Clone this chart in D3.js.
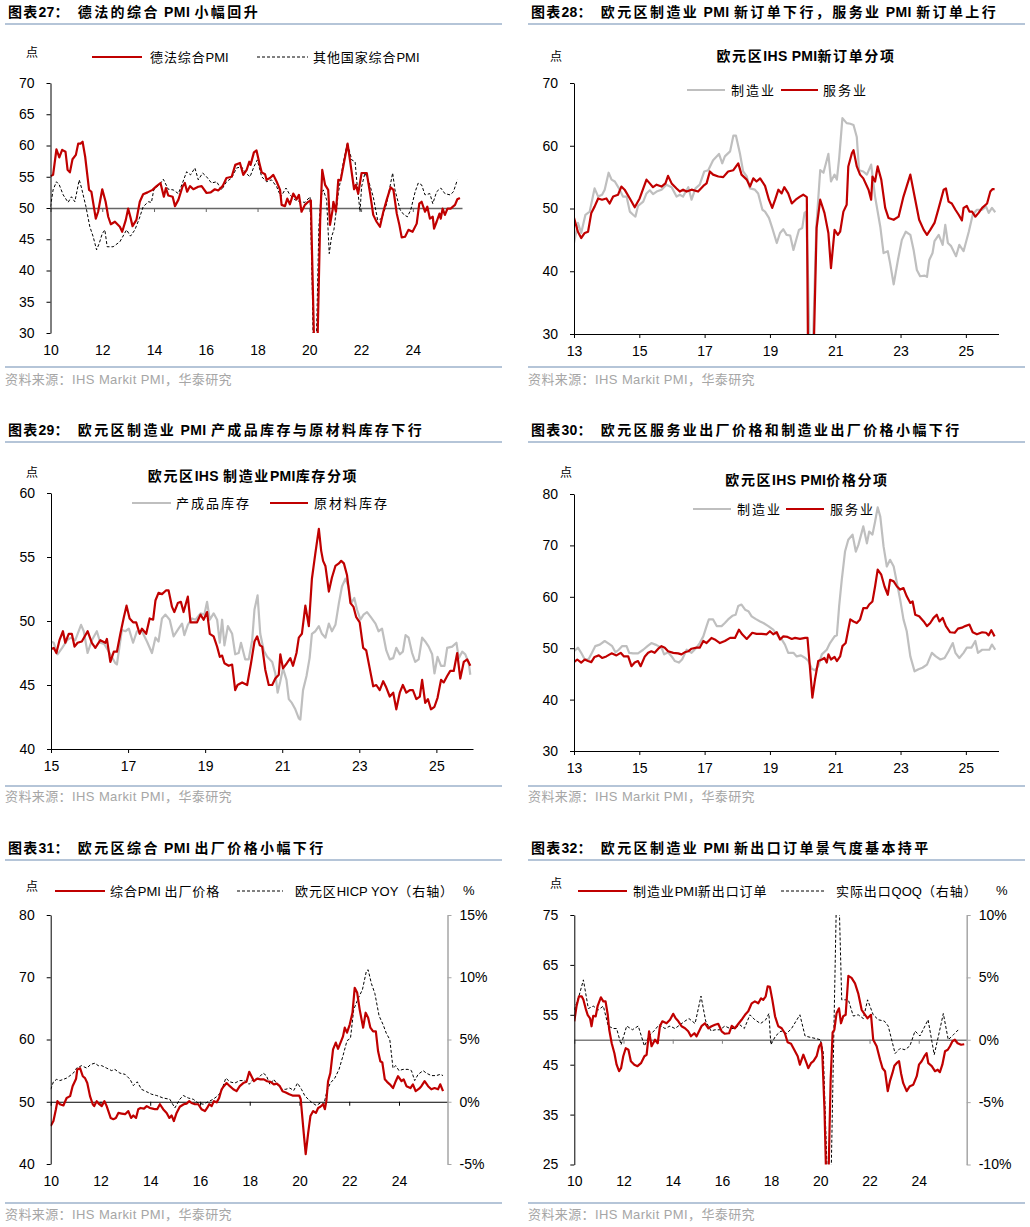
<!DOCTYPE html>
<html><head><meta charset="utf-8">
<script src="https://cdn.jsdelivr.net/npm/d3@7/dist/d3.min.js"></script>
<style>
html,body{margin:0;padding:0;background:#fff;}
svg{display:block;}
</style></head>
<body>
<svg id="chart" width="1030" height="1227" xmlns="http://www.w3.org/2000/svg"></svg>
<script>
// ================= DATA =================
const evenYearTicks = [2010,2012,2014,2016,2018,2020,2022,2024];
const oddYearTicks13 = [2013,2015,2017,2019,2021,2023,2025];
const oddYearTicks15 = [2015,2017,2019,2021,2023,2025];
const p27YTicks = [30,35,40,45,50,55,60,65,70];
const p28YTicks = [30,40,50,60,70];
const p29YTicks = [40,45,50,55,60];
const p30YTicks = [30,40,50,60,70,80];
const p31YTicks = [40,50,60,70,80];
const p31Y2Ticks = [-5,0,5,10,15];
const p32YTicks = [25,35,45,55,65,75];
const p32Y2Ticks = [-10,-5,0,5,10];

const chartNumbers = ["图表27：","图表28：","图表29：","图表30：","图表31：","图表32："];
const chartTitles = [
  "德法的综合 PMI 小幅回升",
  "欧元区制造业 PMI 新订单下行，服务业 PMI 新订单上行",
  "欧元区制造业 PMI 产成品库存与原材料库存下行",
  "欧元区服务业出厂价格和制造业出厂价格小幅下行",
  "欧元区综合 PMI 出厂价格小幅下行",
  "欧元区制造业 PMI 新出口订单景气度基本持平"
];
const innerTitles = ["欧元区IHS PMI新订单分项","欧元区IHS 制造业PMI库存分项","欧元区IHS PMI价格分项"];
const sourceText = "资料来源：IHS Markit PMI，华泰研究";
const legend27 = ["德法综合PMI","其他国家综合PMI"];
const legend28 = ["制造业","服务业"];
const legend29 = ["产成品库存","原材料库存"];
const legend30 = ["制造业","服务业"];
const legend31 = ["综合PMI 出厂价格","欧元区HICP YOY（右轴）"];
const legend32 = ["制造业PMI新出口订单","实际出口QOQ（右轴）"];

// Chart 27: [year, value]
const deFrComposite = [[2010.00,55.1],[2010.10,55.3],[2010.23,59.4],[2010.34,58.1],[2010.45,59.3],[2010.58,59.0],[2010.66,56.1],[2010.75,55.7],[2010.85,57.8],[2010.98,58.5],[2011.07,60.3],[2011.16,60.3],[2011.24,60.6],[2011.34,58.2],[2011.49,52.9],[2011.58,52.6],[2011.75,48.3],[2011.84,49.4],[2012.00,53.0],[2012.13,51.0],[2012.23,48.6],[2012.33,47.4],[2012.49,47.8],[2012.68,47.0],[2012.77,46.2],[2012.91,48.1],[2013.00,49.9],[2013.09,48.5],[2013.17,47.1],[2013.32,48.1],[2013.45,51.0],[2013.58,52.2],[2013.75,52.5],[2013.94,52.9],[2014.10,53.5],[2014.25,54.0],[2014.38,51.8],[2014.46,53.2],[2014.55,52.0],[2014.72,51.8],[2014.81,50.3],[2014.94,51.3],[2015.10,53.4],[2015.19,54.0],[2015.28,52.6],[2015.39,53.5],[2015.52,53.0],[2015.71,53.4],[2015.84,53.5],[2016.03,52.4],[2016.19,52.5],[2016.35,53.0],[2016.48,52.8],[2016.65,53.5],[2016.80,54.8],[2017.00,55.0],[2017.14,56.9],[2017.32,57.2],[2017.45,55.3],[2017.58,56.1],[2017.68,57.4],[2017.73,56.9],[2017.86,58.9],[2017.96,59.2],[2018.07,57.2],[2018.16,55.7],[2018.29,55.4],[2018.35,54.5],[2018.48,54.8],[2018.61,55.3],[2018.74,54.2],[2018.87,52.9],[2018.93,50.5],[2019.06,50.3],[2019.15,51.5],[2019.25,50.6],[2019.38,52.3],[2019.51,51.4],[2019.60,52.1],[2019.70,49.4],[2019.83,50.5],[2019.96,51.0],[2020.06,51.2],[2020.17,31.0],[2020.25,14.0],[2020.33,31.0],[2020.42,48.0],[2020.50,56.1],[2020.61,53.7],[2020.73,52.9],[2020.80,47.3],[2020.90,49.7],[2020.93,51.0],[2021.03,49.4],[2021.12,54.5],[2021.21,54.4],[2021.31,56.6],[2021.48,60.3],[2021.57,57.7],[2021.73,53.0],[2021.80,53.7],[2021.89,52.3],[2022.02,55.6],[2022.22,55.6],[2022.35,52.3],[2022.47,48.9],[2022.60,47.8],[2022.73,47.0],[2022.86,49.4],[2022.99,51.3],[2023.14,53.3],[2023.25,52.9],[2023.38,49.1],[2023.48,47.3],[2023.57,45.3],[2023.70,45.4],[2023.83,46.5],[2023.99,46.2],[2024.15,47.5],[2024.25,50.7],[2024.34,51.0],[2024.47,49.4],[2024.56,50.2],[2024.66,48.3],[2024.77,48.6],[2024.82,46.7],[2024.92,47.8],[2025.03,49.1],[2025.08,48.3],[2025.15,49.9],[2025.24,48.9],[2025.34,49.9],[2025.46,49.9],[2025.63,50.5],[2025.72,51.4],[2025.82,51.6]];
const otherComposite = [[2010.00,50.2],[2010.10,52.9],[2010.23,54.2],[2010.34,53.7],[2010.49,52.1],[2010.68,50.9],[2010.81,51.8],[2010.94,51.0],[2011.11,54.5],[2011.20,53.2],[2011.37,50.2],[2011.52,47.0],[2011.65,45.4],[2011.78,43.3],[2011.88,44.3],[2012.00,45.9],[2012.10,46.5],[2012.19,43.8],[2012.42,43.8],[2012.68,44.6],[2012.94,46.5],[2013.09,45.5],[2013.26,46.5],[2013.43,48.3],[2013.58,50.2],[2013.78,51.0],[2013.90,50.9],[2013.99,52.9],[2014.20,53.7],[2014.36,54.6],[2014.55,53.0],[2014.74,52.9],[2014.94,52.3],[2015.10,54.0],[2015.26,55.8],[2015.41,55.3],[2015.58,56.4],[2015.71,54.5],[2015.88,55.6],[2016.03,55.0],[2016.22,54.0],[2016.42,54.2],[2016.61,52.9],[2016.80,54.2],[2017.00,54.8],[2017.19,56.4],[2017.38,56.6],[2017.54,55.6],[2017.71,55.0],[2017.86,56.6],[2017.99,57.7],[2018.16,55.0],[2018.35,54.2],[2018.54,54.5],[2018.74,53.4],[2018.90,51.8],[2019.10,53.2],[2019.25,52.1],[2019.45,51.3],[2019.64,51.0],[2019.83,50.9],[2020.03,51.8],[2020.12,36.0],[2020.20,15.0],[2020.28,30.0],[2020.37,47.0],[2020.45,51.8],[2020.54,52.9],[2020.67,51.3],[2020.77,42.7],[2020.86,45.4],[2020.95,46.5],[2021.12,52.3],[2021.31,57.2],[2021.47,60.4],[2021.64,57.7],[2021.77,57.4],[2021.83,54.5],[2021.96,49.4],[2022.02,53.4],[2022.15,55.6],[2022.28,54.5],[2022.47,51.8],[2022.64,48.1],[2022.80,48.3],[2022.99,50.7],[2023.22,55.6],[2023.31,52.9],[2023.51,49.7],[2023.66,48.9],[2023.79,48.6],[2023.92,49.7],[2024.09,52.6],[2024.21,54.0],[2024.34,53.7],[2024.47,52.1],[2024.66,52.3],[2024.77,50.7],[2024.92,52.6],[2025.08,53.2],[2025.24,52.3],[2025.44,52.1],[2025.57,52.6],[2025.72,54.5]];

// Chart 28
const mfgNewOrders = [[2013.00,44.5],[2013.12,47.7],[2013.22,46.1],[2013.35,49.0],[2013.48,49.5],[2013.63,53.2],[2013.74,51.9],[2013.86,52.2],[2013.94,53.0],[2014.06,55.7],[2014.15,54.6],[2014.25,54.3],[2014.40,53.0],[2014.50,51.9],[2014.61,51.9],[2014.71,49.5],[2014.81,49.0],[2014.88,48.7],[2014.96,50.4],[2015.12,51.1],[2015.22,52.4],[2015.32,52.9],[2015.42,52.3],[2015.53,52.7],[2015.68,53.0],[2015.83,53.8],[2015.99,53.4],[2016.14,51.9],[2016.24,52.2],[2016.34,51.9],[2016.50,53.4],[2016.60,51.4],[2016.72,53.2],[2016.85,53.8],[2016.99,55.9],[2017.11,56.1],[2017.26,57.7],[2017.44,58.7],[2017.54,57.2],[2017.62,58.3],[2017.78,59.1],[2017.88,61.6],[2017.96,61.6],[2018.08,58.8],[2018.18,55.9],[2018.29,55.1],[2018.39,53.2],[2018.54,53.0],[2018.64,52.4],[2018.77,49.8],[2018.85,49.5],[2018.97,48.5],[2019.07,46.9],[2019.21,44.5],[2019.31,46.1],[2019.41,46.7],[2019.51,45.8],[2019.62,45.7],[2019.72,43.4],[2019.82,45.3],[2019.89,46.6],[2019.99,46.9],[2020.06,49.3],[2020.11,49.5],[2020.17,38.6],[2020.25,18.7],[2020.33,30.5],[2020.42,47.0],[2020.54,56.1],[2020.64,55.7],[2020.79,58.7],[2020.87,54.3],[2020.98,55.4],[2021.05,54.6],[2021.12,58.0],[2021.22,64.4],[2021.35,63.6],[2021.46,63.5],[2021.56,63.3],[2021.66,61.4],[2021.73,56.1],[2021.86,55.9],[2021.97,55.4],[2022.10,57.0],[2022.22,51.9],[2022.38,47.1],[2022.48,42.9],[2022.61,43.2],[2022.68,41.3],[2022.79,37.9],[2022.92,41.8],[2023.04,45.0],[2023.16,46.3],[2023.30,45.8],[2023.40,43.4],[2023.50,40.2],[2023.60,39.2],[2023.74,39.3],[2023.81,39.1],[2023.88,41.8],[2023.98,42.9],[2024.04,44.8],[2024.17,45.8],[2024.29,44.2],[2024.37,47.4],[2024.45,44.5],[2024.55,44.0],[2024.70,42.4],[2024.80,44.2],[2024.93,43.2],[2025.09,46.3],[2025.21,49.0],[2025.34,49.8],[2025.50,49.8],[2025.62,50.3],[2025.70,49.3],[2025.80,50.1],[2025.90,49.4]];
const svcNewOrders = [[2013.00,48.5],[2013.12,46.3],[2013.22,45.3],[2013.33,46.1],[2013.43,46.3],[2013.53,49.3],[2013.63,50.3],[2013.74,51.6],[2013.86,51.4],[2013.99,51.6],[2014.09,50.8],[2014.20,51.9],[2014.35,52.2],[2014.45,53.5],[2014.55,53.0],[2014.71,51.6],[2014.86,50.2],[2015.01,51.6],[2015.22,54.6],[2015.32,54.0],[2015.42,53.4],[2015.53,53.8],[2015.68,53.5],[2015.80,54.0],[2015.88,55.2],[2015.99,54.0],[2016.14,53.2],[2016.24,52.7],[2016.34,53.0],[2016.45,52.7],[2016.60,53.0],[2016.80,52.7],[2016.96,53.6],[2017.06,54.0],[2017.16,55.9],[2017.26,55.4],[2017.42,55.1],[2017.57,55.0],[2017.72,55.9],[2017.88,56.1],[2018.03,57.2],[2018.13,55.4],[2018.29,54.6],[2018.39,53.5],[2018.49,54.8],[2018.59,54.3],[2018.70,54.8],[2018.85,53.6],[2018.97,51.4],[2019.07,50.1],[2019.16,51.4],[2019.26,53.0],[2019.36,52.4],[2019.44,53.4],[2019.56,52.4],[2019.67,50.8],[2019.79,51.4],[2019.92,51.9],[2020.02,52.2],[2020.13,51.8],[2020.17,25.0],[2020.25,10.0],[2020.33,25.0],[2020.43,46.9],[2020.54,51.4],[2020.67,49.3],[2020.79,46.1],[2020.87,40.5],[2020.98,46.6],[2021.08,45.8],[2021.15,46.3],[2021.25,49.5],[2021.35,50.6],[2021.40,56.7],[2021.51,58.8],[2021.56,59.3],[2021.66,56.7],[2021.76,55.4],[2021.86,54.8],[2022.02,53.0],[2022.10,51.4],[2022.14,55.1],[2022.22,54.3],[2022.30,56.7],[2022.41,54.6],[2022.53,50.1],[2022.63,48.5],[2022.79,48.2],[2022.94,48.7],[2023.09,51.9],[2023.30,55.4],[2023.45,51.4],[2023.57,48.2],[2023.71,46.6],[2023.81,45.8],[2023.91,46.6],[2024.04,47.7],[2024.17,50.1],[2024.32,53.0],[2024.39,53.2],[2024.47,51.1],[2024.57,50.8],[2024.68,49.8],[2024.78,49.0],[2024.88,48.1],[2024.93,50.1],[2025.03,50.4],[2025.11,49.5],[2025.19,49.5],[2025.29,48.7],[2025.39,49.3],[2025.50,50.1],[2025.65,50.8],[2025.75,52.7],[2025.82,53.1],[2025.88,53.1]];

// Chart 29
const finishedGoodsInv = [[2015.00,48.4],[2015.07,48.3],[2015.17,47.4],[2015.29,47.9],[2015.42,48.5],[2015.52,48.7],[2015.63,48.5],[2015.78,49.7],[2015.85,49.2],[2015.95,47.5],[2016.06,48.5],[2016.19,49.2],[2016.28,48.3],[2016.38,48.2],[2016.54,47.4],[2016.67,46.7],[2016.71,46.6],[2016.84,49.3],[2016.93,49.2],[2017.02,49.4],[2017.13,48.3],[2017.23,49.2],[2017.36,49.2],[2017.49,48.4],[2017.62,47.5],[2017.71,48.7],[2017.79,48.4],[2017.88,50.2],[2017.97,50.5],[2018.08,50.1],[2018.18,48.8],[2018.31,49.4],[2018.40,49.8],[2018.46,48.9],[2018.55,49.7],[2018.66,50.2],[2018.75,50.1],[2018.88,50.6],[2018.98,50.5],[2019.05,51.5],[2019.12,50.1],[2019.22,50.6],[2019.31,50.1],[2019.38,48.3],[2019.44,50.1],[2019.50,48.1],[2019.59,49.6],[2019.70,49.0],[2019.78,47.4],[2019.87,47.5],[2019.93,48.3],[2020.04,47.0],[2020.13,47.0],[2020.22,48.5],[2020.28,50.9],[2020.36,52.0],[2020.43,49.0],[2020.52,47.7],[2020.61,47.2],[2020.74,46.8],[2020.82,45.9],[2020.88,44.4],[2020.95,45.3],[2021.02,46.3],[2021.11,45.4],[2021.17,43.9],[2021.25,43.6],[2021.34,43.1],[2021.43,42.4],[2021.47,42.3],[2021.54,44.6],[2021.63,45.7],[2021.71,47.1],[2021.77,49.0],[2021.86,49.2],[2021.95,49.6],[2022.03,49.0],[2022.12,48.7],[2022.21,49.8],[2022.29,49.2],[2022.38,49.7],[2022.47,51.4],[2022.55,52.7],[2022.64,53.3],[2022.72,52.7],[2022.79,51.4],[2022.87,51.8],[2022.94,50.9],[2023.03,50.1],[2023.11,50.5],[2023.20,50.7],[2023.30,50.3],[2023.42,49.8],[2023.50,49.2],[2023.59,49.4],[2023.70,47.7],[2023.79,47.0],[2023.88,47.1],[2023.96,47.9],[2024.05,47.4],[2024.13,47.6],[2024.20,48.9],[2024.28,48.7],[2024.37,47.5],[2024.45,46.8],[2024.54,47.0],[2024.63,48.7],[2024.71,48.4],[2024.80,48.0],[2024.89,47.4],[2024.95,45.9],[2025.03,47.2],[2025.12,46.5],[2025.21,46.5],[2025.28,47.9],[2025.41,48.0],[2025.52,48.3],[2025.58,47.1],[2025.67,47.6],[2025.75,47.4],[2025.84,46.7],[2025.88,45.8]];
const rawMaterialInv = [[2015.00,47.8],[2015.07,47.9],[2015.14,47.5],[2015.22,48.5],[2015.31,49.2],[2015.37,48.3],[2015.46,49.0],[2015.54,49.0],[2015.61,48.0],[2015.69,48.3],[2015.80,48.4],[2015.95,49.2],[2016.06,48.3],[2016.15,47.9],[2016.28,48.5],[2016.41,48.3],[2016.45,48.6],[2016.54,46.8],[2016.63,47.6],[2016.71,47.6],[2016.80,49.0],[2016.89,50.3],[2016.96,51.2],[2017.04,50.2],[2017.13,49.9],[2017.21,49.9],[2017.30,49.0],[2017.36,49.4],[2017.47,49.0],[2017.56,50.2],[2017.65,50.1],[2017.71,51.6],[2017.79,52.2],[2017.88,52.1],[2017.99,52.4],[2018.05,52.4],[2018.14,51.1],[2018.20,50.7],[2018.29,51.4],[2018.37,51.5],[2018.44,50.7],[2018.55,51.9],[2018.62,49.9],[2018.72,49.9],[2018.79,49.9],[2018.88,50.5],[2018.96,50.1],[2019.05,50.7],[2019.12,49.0],[2019.22,48.8],[2019.31,48.0],[2019.38,47.2],[2019.44,47.3],[2019.50,46.7],[2019.61,46.5],[2019.70,46.6],[2019.78,44.6],[2019.84,45.0],[2019.96,45.2],[2020.09,45.0],[2020.19,46.7],[2020.28,48.4],[2020.35,48.8],[2020.42,48.1],[2020.48,48.0],[2020.56,46.2],[2020.65,45.0],[2020.74,45.0],[2020.82,45.5],[2020.91,45.8],[2020.95,47.4],[2021.02,46.3],[2021.12,46.7],[2021.21,47.1],[2021.28,46.5],[2021.37,47.5],[2021.43,48.7],[2021.51,49.0],[2021.60,51.2],[2021.69,49.6],[2021.77,53.3],[2021.86,55.3],[2021.95,57.2],[2022.01,55.5],[2022.06,54.7],[2022.12,54.3],[2022.21,52.3],[2022.29,53.4],[2022.38,54.3],[2022.47,54.5],[2022.53,54.7],[2022.60,54.5],[2022.68,53.6],[2022.77,51.4],[2022.85,51.1],[2022.92,50.3],[2023.01,49.9],[2023.10,47.9],[2023.18,47.7],[2023.27,46.3],[2023.36,44.9],[2023.44,45.0],[2023.53,44.6],[2023.62,45.3],[2023.70,44.8],[2023.79,44.1],[2023.88,44.4],[2023.96,43.1],[2024.05,44.4],[2024.13,45.0],[2024.22,44.4],[2024.31,44.6],[2024.39,44.6],[2024.48,43.9],[2024.57,44.1],[2024.63,45.4],[2024.71,43.6],[2024.78,43.9],[2024.86,43.1],[2024.95,43.3],[2025.03,44.0],[2025.12,45.4],[2025.19,45.2],[2025.28,45.7],[2025.36,46.1],[2025.45,46.1],[2025.54,47.5],[2025.62,45.5],[2025.71,46.8],[2025.80,47.0],[2025.88,46.5]];

// Chart 30
const mfgOutputPrices = [[2013.00,49.4],[2013.12,50.1],[2013.22,49.1],[2013.33,47.8],[2013.45,47.9],[2013.55,49.1],[2013.65,50.4],[2013.79,50.7],[2013.94,51.4],[2014.04,51.0],[2014.17,50.4],[2014.27,49.2],[2014.37,49.7],[2014.47,50.4],[2014.61,50.4],[2014.69,49.1],[2014.81,49.0],[2014.96,49.0],[2015.12,49.7],[2015.25,50.4],[2015.37,51.0],[2015.53,50.6],[2015.68,50.1],[2015.76,48.8],[2015.88,49.2],[2015.99,48.4],[2016.09,47.5],[2016.21,47.2],[2016.31,47.8],[2016.45,49.7],[2016.60,49.1],[2016.75,50.1],[2016.85,51.0],[2016.96,52.3],[2017.06,54.3],[2017.13,55.6],[2017.26,55.6],[2017.37,54.3],[2017.52,54.3],[2017.62,54.9],[2017.72,55.6],[2017.85,56.3],[2017.95,56.5],[2018.03,58.2],[2018.13,58.5],[2018.24,57.5],[2018.34,57.2],[2018.44,56.2],[2018.56,55.7],[2018.70,55.2],[2018.80,54.9],[2018.95,54.3],[2019.10,53.6],[2019.26,52.3],[2019.36,51.7],[2019.46,50.7],[2019.56,49.1],[2019.72,49.1],[2019.82,48.4],[2019.95,48.6],[2020.08,48.1],[2020.18,47.5],[2020.28,46.0],[2020.38,45.7],[2020.48,46.5],[2020.59,48.8],[2020.74,49.7],[2020.84,51.0],[2020.98,52.3],[2021.05,52.5],[2021.12,58.2],[2021.20,63.3],[2021.30,68.8],[2021.40,71.1],[2021.53,72.1],[2021.63,68.8],[2021.71,70.1],[2021.86,73.7],[2021.97,70.4],[2022.04,72.7],[2022.14,72.1],[2022.22,74.6],[2022.30,77.4],[2022.38,75.6],[2022.48,69.8],[2022.58,65.9],[2022.68,67.2],[2022.79,65.9],[2022.89,62.7],[2022.99,59.4],[2023.09,55.6],[2023.19,53.3],[2023.30,48.4],[2023.43,45.5],[2023.55,45.9],[2023.67,46.2],[2023.81,46.8],[2023.96,49.1],[2024.08,48.4],[2024.22,47.8],[2024.35,48.1],[2024.47,49.4],[2024.60,51.0],[2024.68,49.1],[2024.80,48.1],[2024.93,49.1],[2025.03,50.1],[2025.17,50.1],[2025.29,51.4],[2025.37,49.1],[2025.50,49.7],[2025.62,49.7],[2025.72,49.7],[2025.80,50.7],[2025.90,49.7]];
const svcOutputPrices = [[2013.00,47.3],[2013.10,47.8],[2013.22,47.2],[2013.33,47.8],[2013.43,47.5],[2013.53,47.3],[2013.63,48.3],[2013.76,48.6],[2013.86,48.1],[2013.99,48.4],[2014.15,49.0],[2014.30,48.6],[2014.43,49.1],[2014.53,48.4],[2014.66,48.4],[2014.76,46.5],[2014.86,47.2],[2014.96,47.5],[2015.04,46.5],[2015.17,48.4],[2015.27,49.1],[2015.37,49.4],[2015.47,49.1],[2015.58,49.9],[2015.68,50.4],[2015.78,50.1],[2015.88,49.4],[2016.04,49.1],[2016.19,49.0],[2016.29,48.8],[2016.39,49.2],[2016.50,49.4],[2016.60,49.9],[2016.75,50.1],[2016.85,50.1],[2016.96,51.4],[2017.06,51.0],[2017.21,52.0],[2017.31,51.7],[2017.47,51.0],[2017.62,51.4],[2017.78,52.0],[2017.93,52.0],[2018.05,53.6],[2018.15,52.7],[2018.29,51.8],[2018.46,53.0],[2018.59,52.8],[2018.75,52.8],[2018.90,52.7],[2019.00,53.3],[2019.10,52.7],[2019.21,53.1],[2019.31,51.7],[2019.41,52.3],[2019.54,52.2],[2019.67,51.8],[2019.77,52.0],[2019.92,51.8],[2020.08,52.0],[2020.15,52.0],[2020.23,45.9],[2020.30,40.4],[2020.38,43.9],[2020.48,47.5],[2020.59,47.8],[2020.67,48.1],[2020.74,47.2],[2020.79,48.8],[2020.87,47.8],[2020.98,48.3],[2021.05,47.5],[2021.15,48.4],[2021.22,50.4],[2021.32,51.0],[2021.46,55.6],[2021.56,55.2],[2021.66,54.9],[2021.76,55.6],[2021.86,57.8],[2021.97,57.8],[2022.04,58.5],[2022.14,59.1],[2022.22,62.0],[2022.30,65.3],[2022.41,64.3],[2022.51,62.0],[2022.61,60.4],[2022.68,63.3],[2022.79,63.0],[2022.89,62.0],[2022.99,61.4],[2023.09,61.7],[2023.19,60.1],[2023.30,58.8],[2023.37,59.1],[2023.45,56.5],[2023.57,56.2],[2023.71,55.2],[2023.81,54.3],[2023.91,54.9],[2024.01,55.9],[2024.11,56.5],[2024.19,55.2],[2024.29,55.9],[2024.39,54.3],[2024.52,53.1],[2024.66,53.0],[2024.76,53.8],[2024.88,54.0],[2024.98,54.3],[2025.11,54.6],[2025.21,53.1],[2025.34,52.7],[2025.50,53.1],[2025.62,53.0],[2025.70,52.5],[2025.78,53.5],[2025.88,52.3]];

// Chart 31
const compositeOutputPrices = [[2010.00,46.1],[2010.11,46.9],[2010.21,48.8],[2010.27,50.1],[2010.37,49.6],[2010.51,49.4],[2010.64,50.6],[2010.78,50.9],[2010.88,52.5],[2011.02,53.7],[2011.07,55.2],[2011.18,55.4],[2011.29,54.1],[2011.38,53.8],[2011.47,53.0],[2011.58,50.9],[2011.69,49.6],[2011.75,49.3],[2011.85,50.1],[2011.95,49.6],[2012.05,49.3],[2012.16,50.1],[2012.25,49.3],[2012.41,47.4],[2012.52,47.2],[2012.62,47.4],[2012.72,48.2],[2012.85,48.1],[2012.99,48.0],[2013.12,48.5],[2013.23,47.4],[2013.32,47.8],[2013.43,47.4],[2013.52,48.8],[2013.61,49.0],[2013.75,48.9],[2013.86,49.3],[2013.99,49.0],[2014.10,48.9],[2014.19,48.8],[2014.28,48.8],[2014.39,49.6],[2014.52,48.8],[2014.66,48.2],[2014.77,47.4],[2014.86,47.8],[2014.95,46.9],[2015.06,48.2],[2015.19,49.2],[2015.35,49.6],[2015.46,49.7],[2015.57,50.1],[2015.66,49.8],[2015.80,49.6],[2015.93,49.6],[2016.06,48.8],[2016.20,48.5],[2016.29,49.0],[2016.37,49.6],[2016.47,49.3],[2016.56,50.1],[2016.67,49.9],[2016.77,50.6],[2016.87,52.0],[2016.96,52.5],[2017.07,53.0],[2017.20,52.5],[2017.34,52.0],[2017.47,51.7],[2017.60,52.5],[2017.74,53.0],[2017.87,53.2],[2017.98,54.8],[2018.07,54.1],[2018.17,53.3],[2018.30,53.7],[2018.43,53.6],[2018.57,53.6],[2018.70,53.3],[2018.84,53.2],[2018.97,52.8],[2019.10,52.9],[2019.21,52.5],[2019.32,51.7],[2019.45,51.5],[2019.59,51.2],[2019.72,51.0],[2019.85,51.0],[2019.99,51.0],[2020.05,50.4],[2020.17,45.0],[2020.25,41.6],[2020.35,45.0],[2020.44,47.7],[2020.55,48.5],[2020.66,48.2],[2020.75,49.0],[2020.84,49.2],[2020.95,49.6],[2021.02,48.8],[2021.08,50.1],[2021.15,53.3],[2021.24,54.6],[2021.35,58.4],[2021.46,59.5],[2021.55,58.5],[2021.65,59.5],[2021.75,60.5],[2021.82,61.9],[2021.91,61.1],[2022.02,62.4],[2022.13,64.3],[2022.22,68.3],[2022.32,67.5],[2022.42,64.8],[2022.56,61.9],[2022.66,64.3],[2022.76,63.5],[2022.85,61.9],[2022.96,61.3],[2023.07,61.3],[2023.16,58.1],[2023.25,56.5],[2023.33,56.3],[2023.43,53.6],[2023.52,53.2],[2023.63,52.8],[2023.76,52.2],[2023.87,53.3],[2023.96,54.1],[2024.10,53.3],[2024.19,53.6],[2024.30,52.5],[2024.46,52.2],[2024.56,52.8],[2024.67,51.7],[2024.81,52.1],[2024.90,52.5],[2025.03,53.3],[2025.17,52.5],[2025.30,52.0],[2025.43,52.2],[2025.57,52.0],[2025.66,52.8],[2025.77,51.7]];
const hicpYoY = [[2010.00,1.0],[2010.11,1.6],[2010.24,1.8],[2010.37,1.7],[2010.51,1.8],[2010.64,1.9],[2010.78,2.1],[2010.91,2.3],[2011.04,2.7],[2011.24,2.9],[2011.45,2.7],[2011.61,3.0],[2011.78,3.1],[2011.91,2.9],[2012.05,2.9],[2012.25,2.7],[2012.45,2.5],[2012.58,2.6],[2012.78,2.3],[2012.99,2.2],[2013.19,1.8],[2013.32,1.3],[2013.48,1.6],[2013.65,1.0],[2013.86,0.8],[2014.06,0.6],[2014.26,0.5],[2014.52,0.3],[2014.79,0.2],[2014.99,-0.5],[2015.19,0.2],[2015.33,0.5],[2015.53,0.3],[2015.73,0.2],[2015.93,-0.1],[2016.13,-0.2],[2016.33,0.0],[2016.53,0.2],[2016.73,0.5],[2016.87,0.9],[2017.04,1.9],[2017.20,1.6],[2017.40,1.5],[2017.60,1.7],[2017.80,1.7],[2017.98,1.4],[2018.14,1.8],[2018.34,1.9],[2018.54,2.3],[2018.67,2.1],[2018.81,1.4],[2018.97,1.8],[2019.10,1.4],[2019.28,1.0],[2019.45,1.0],[2019.61,1.1],[2019.77,0.9],[2019.92,1.5],[2020.08,1.0],[2020.21,0.5],[2020.35,0.2],[2020.52,-0.1],[2020.68,-0.3],[2020.84,-0.1],[2020.98,-0.2],[2021.11,0.9],[2021.24,1.5],[2021.42,1.9],[2021.59,2.6],[2021.75,3.7],[2021.91,4.9],[2022.05,5.1],[2022.18,7.4],[2022.36,8.3],[2022.53,9.0],[2022.69,10.5],[2022.76,10.6],[2022.89,9.5],[2023.03,8.7],[2023.20,6.9],[2023.36,6.2],[2023.49,5.5],[2023.63,5.0],[2023.76,2.7],[2023.87,2.9],[2024.00,2.5],[2024.16,2.6],[2024.36,2.6],[2024.50,2.5],[2024.63,1.7],[2024.77,2.2],[2024.97,2.5],[2025.10,2.3],[2025.30,2.1],[2025.50,2.1],[2025.66,2.2],[2025.77,2.1]];

// Chart 32
const newExportOrders = [[2010.00,53.7],[2010.09,56.7],[2010.19,58.7],[2010.30,58.7],[2010.37,58.0],[2010.46,56.3],[2010.54,55.0],[2010.64,54.3],[2010.70,52.7],[2010.77,54.8],[2010.87,54.7],[2010.95,56.8],[2011.08,58.5],[2011.18,57.7],[2011.27,57.7],[2011.36,55.0],[2011.42,52.0],[2011.52,49.3],[2011.63,47.3],[2011.72,45.0],[2011.82,43.7],[2011.90,44.3],[2011.99,46.7],[2012.09,48.3],[2012.20,48.0],[2012.30,45.7],[2012.44,45.0],[2012.57,44.7],[2012.71,45.3],[2012.85,46.7],[2012.94,47.0],[2013.04,51.7],[2013.14,48.7],[2013.28,50.0],[2013.39,49.3],[2013.48,52.7],[2013.58,53.7],[2013.75,53.3],[2013.89,54.0],[2014.02,55.2],[2014.12,54.3],[2014.23,53.7],[2014.36,52.7],[2014.50,52.3],[2014.63,51.7],[2014.74,50.7],[2014.88,51.3],[2014.97,50.7],[2015.07,51.7],[2015.18,52.8],[2015.31,53.3],[2015.45,52.3],[2015.58,52.7],[2015.72,53.0],[2015.85,53.2],[2015.99,51.7],[2016.12,51.2],[2016.29,51.3],[2016.40,52.8],[2016.53,52.3],[2016.67,53.2],[2016.80,54.0],[2016.94,55.0],[2017.07,55.7],[2017.21,57.3],[2017.34,57.7],[2017.48,57.3],[2017.59,58.3],[2017.68,58.0],[2017.78,58.7],[2017.86,60.7],[2017.95,60.6],[2018.05,58.0],[2018.16,54.7],[2018.29,52.7],[2018.43,52.3],[2018.56,51.3],[2018.67,49.5],[2018.81,49.2],[2018.94,48.0],[2019.08,46.7],[2019.17,45.0],[2019.31,47.0],[2019.44,45.3],[2019.51,44.3],[2019.62,45.3],[2019.72,45.7],[2019.85,46.7],[2019.95,48.7],[2020.03,49.3],[2020.08,47.3],[2020.17,36.0],[2020.25,20.0],[2020.33,22.0],[2020.42,42.0],[2020.50,51.5],[2020.57,52.0],[2020.66,55.3],[2020.76,56.3],[2020.84,53.3],[2020.93,54.7],[2021.03,55.0],[2021.14,62.8],[2021.27,62.4],[2021.41,61.3],[2021.54,59.3],[2021.68,56.0],[2021.82,55.0],[2021.92,54.3],[2022.06,55.0],[2022.15,50.0],[2022.29,48.7],[2022.43,46.0],[2022.53,44.3],[2022.63,43.7],[2022.74,39.7],[2022.83,41.7],[2022.93,43.3],[2023.01,44.8],[2023.10,45.3],[2023.20,45.7],[2023.28,43.3],[2023.37,41.3],[2023.51,39.7],[2023.64,40.7],[2023.78,41.0],[2023.92,42.7],[2024.01,45.0],[2024.12,45.7],[2024.23,46.7],[2024.32,47.3],[2024.39,45.3],[2024.53,44.7],[2024.66,43.7],[2024.77,44.0],[2024.86,43.5],[2024.96,45.0],[2025.07,47.7],[2025.18,48.0],[2025.27,48.7],[2025.37,49.7],[2025.47,50.0],[2025.58,49.3],[2025.72,49.0],[2025.85,49.1]];
const realExportQoQ = [[2010.00,2.4],[2010.19,3.5],[2010.37,4.8],[2010.57,2.5],[2010.77,2.7],[2010.98,2.4],[2011.18,2.7],[2011.38,1.1],[2011.59,0.9],[2011.72,0.9],[2011.90,-0.4],[2012.13,1.1],[2012.36,0.8],[2012.60,1.1],[2012.85,-0.5],[2013.04,0.3],[2013.28,0.8],[2013.44,1.2],[2013.69,0.9],[2013.89,1.1],[2014.09,0.9],[2014.30,1.2],[2014.50,1.5],[2014.66,1.7],[2014.91,1.3],[2015.15,3.5],[2015.34,1.5],[2015.56,0.7],[2015.72,0.8],[2015.92,0.8],[2016.12,1.1],[2016.33,0.9],[2016.53,0.9],[2016.73,1.2],[2016.91,0.9],[2017.14,2.0],[2017.34,1.6],[2017.57,1.3],[2017.78,1.6],[2017.91,2.1],[2017.99,-0.4],[2018.18,0.3],[2018.40,0.7],[2018.63,0.5],[2018.83,0.9],[2019.17,2.0],[2019.38,0.3],[2019.58,0.2],[2019.81,0.1],[2020.00,0.0],[2020.12,-1.0],[2020.38,-17.0],[2020.70,16.0],[2020.87,3.2],[2021.14,3.2],[2021.34,1.9],[2021.54,2.0],[2021.75,1.7],[2021.92,3.2],[2022.15,2.0],[2022.36,1.6],[2022.60,1.5],[2022.76,1.1],[2023.04,-1.1],[2023.24,-0.7],[2023.44,-0.8],[2023.64,-0.5],[2023.85,0.7],[2024.05,0.3],[2024.38,1.6],[2024.63,-1.2],[2024.79,0.2],[2025.00,2.1],[2025.20,0.0],[2025.41,0.4],[2025.61,0.8]];

// ================= DRAWING =================
const svg = d3.select('#chart');
const RED = '#C00000', LGRAY = '#BFBFBF', SEP = '#9DB2CB';
const FONT = '"Liberation Sans", Arial, "Noto Sans CJK SC", sans-serif';

// append text with separate letter-spacing for CJK and Latin runs
function mixedText(sel, s, cjkLs, latLs, firstDx) {
  let first = true;
  s.split(/([\x00-\x7F]+)/).filter(p => p.length).forEach(p => {
    const ts = sel.append('tspan').attr('letter-spacing', /^[\x00-\x7F]+$/.test(p) ? latLs : cjkLs).text(p);
    if (first && firstDx) ts.attr('dx', firstDx);
    first = false;
  });
}
function header(x0, x1, yBase, idx, ySep) {
  const t = svg.append('text').attr('x', x0).attr('y', yBase)
    .attr('font-family', FONT).attr('font-size', 14).attr('font-weight', 'bold').attr('fill', '#000');
  mixedText(t, chartNumbers[idx], 1.2, 0.3);
  mixedText(t, chartTitles[idx], 2.4, 0.4, 8);
  svg.append('line').attr('x1', x0 - 3).attr('x2', x1).attr('y1', ySep).attr('y2', ySep)
    .attr('stroke', SEP).attr('stroke-width', 1.5);
}
function footer(x0, x1, ySep, yBase) {
  svg.append('line').attr('x1', x0 - 3).attr('x2', x1).attr('y1', ySep).attr('y2', ySep)
    .attr('stroke', SEP).attr('stroke-width', 1.5);
  svg.append('text').attr('x', x0 - 3).attr('y', yBase).attr('font-family', FONT)
    .attr('font-size', 13).attr('letter-spacing', 0.4).attr('fill', '#A6A6A6').text(sourceText);
}
function txt(x, y, s, opts = {}) {
  const t = svg.append('text').attr('x', x).attr('y', y).attr('font-family', FONT)
    .attr('font-size', opts.size || 13).attr('font-weight', opts.bold ? 'bold' : 'normal')
    .attr('text-anchor', opts.anchor || 'start').attr('fill', opts.fill || '#000');
  mixedText(t, s, opts.ls === undefined ? 0.9 : opts.ls, opts.lls === undefined ? 0 : opts.lls);
  return t;
}
function legLine(x1, x2, y, color, dashed) {
  svg.append('line').attr('x1', x1).attr('x2', x2).attr('y1', y).attr('y2', y)
    .attr('stroke', color).attr('stroke-width', dashed ? 1 : 2.2)
    .attr('stroke-dasharray', dashed ? '3,2' : null);
}

let clipN = 0;
function plot(cfg) {
  const x = d3.scaleLinear().domain(cfg.xd).range(cfg.xr);
  const y = d3.scaleLinear().domain(cfg.yd).range(cfg.yr);
  const y2 = cfg.y2d ? d3.scaleLinear().domain(cfg.y2d).range(cfg.yr) : null;
  const id = 'clp' + (clipN++);
  svg.append('clipPath').attr('id', id).append('rect')
    .attr('x', cfg.xr[0]).attr('y', cfg.yr[1]).attr('width', cfg.xr[1] - cfg.xr[0] + 3)
    .attr('height', cfg.yr[0] - cfg.yr[1]);

  if (cfg.ref !== undefined) {
    const ra = svg.append('g').attr('transform', `translate(0,${y(cfg.ref)})`)
      .call(d3.axisBottom(x).tickValues(cfg.xTicks).tickSize(4).tickSizeOuter(0).tickFormat(''));
    ra.selectAll('path,line').attr('stroke', cfg.refColor).attr('stroke-width', cfg.refWidth);
    ra.selectAll('.tick line').attr('stroke-width', 1);
    const la = svg.append('g').attr('transform', `translate(0,${cfg.yr[0]})`)
      .call(d3.axisBottom(x).tickValues(cfg.xTicks).tickSize(0).tickPadding(12)
        .tickFormat(d => String(d).slice(2)));
    la.select('.domain').remove();
    la.attr('font-family', FONT).attr('font-size', 14).attr('color', '#000');
  } else {
    const ba = svg.append('g').attr('transform', `translate(0,${cfg.yr[0]})`)
      .call(d3.axisBottom(x).tickValues(cfg.xTicks).tickSize(4).tickPadding(8).tickSizeOuter(0)
        .tickFormat(d => String(d).slice(2)));
    ba.attr('font-family', FONT).attr('font-size', 14).attr('color', '#000');
  }

  const line = d3.line().x(d => x(d[0])).y(d => y(d[1]));
  const line2 = y2 ? d3.line().x(d => x(d[0])).y(d => y2(d[1])) : null;
  cfg.series.forEach(s => {
    svg.append('path').datum(s.data)
      .attr('d', s.right ? line2 : line)
      .attr('fill', 'none').attr('stroke', s.color).attr('stroke-width', s.width)
      .attr('stroke-dasharray', s.dash || null).attr('stroke-linejoin', 'round')
      .attr('clip-path', `url(#${id})`);
  });

  const la = svg.append('g').attr('transform', `translate(${cfg.xr[0]},0)`)
    .call(d3.axisLeft(y).tickValues(cfg.yTicks).tickSize(4).tickPadding(12).tickSizeOuter(0));
  la.attr('font-family', FONT).attr('font-size', 14).attr('color', '#000');

  if (y2) {
    const ra = svg.append('g').attr('transform', `translate(${cfg.xr[1]},0)`)
      .call(d3.axisRight(y2).tickValues(cfg.y2Ticks).tickSize(4).tickPadding(8).tickSizeOuter(0)
        .tickFormat(d => d + '%'));
    ra.attr('font-family', FONT).attr('font-size', 14).attr('color', '#000');
    ra.selectAll('path,line').attr('stroke', '#A6A6A6');
    ra.select('.domain').attr('stroke-width', 1.5);
  }
}

// ---------- Chart 27 ----------
header(8, 502, 17, 0, 24);
txt(26, 57, '点', {size: 12});
legLine(92, 142, 57, RED, false); txt(150, 62, legend27[0]);
legLine(257, 308, 57, '#000', true); txt(313, 62, legend27[1]);
plot({xd: [2010, 2025.9], xr: [50.5, 462], yd: [30, 70], yr: [333, 83],
  xTicks: evenYearTicks, yTicks: p27YTicks, ref: 50, refColor: '#666', refWidth: 1.5,
  series: [{data: otherComposite, color: '#000', width: 1, dash: '3,2'},
           {data: deFrComposite, color: RED, width: 2.2}]});
footer(8, 502, 367, 384);

// ---------- Chart 28 ----------
header(531, 1025, 17, 1, 24);
txt(550, 61, '点', {size: 12});
txt(806, 61, innerTitles[0], {size: 14, bold: true, anchor: 'middle', ls: 1.6, lls: 0.3});
legLine(687, 725, 90, LGRAY, false); txt(731, 95, legend28[0], {ls: 2});
legLine(781, 818, 90, RED, false); txt(823, 95, legend28[1], {ls: 2});
plot({xd: [2013, 2026], xr: [574, 998.5], yd: [30, 70], yr: [334, 83],
  xTicks: oddYearTicks13, yTicks: p28YTicks,
  series: [{data: mfgNewOrders, color: LGRAY, width: 2.2},
           {data: svcNewOrders, color: RED, width: 2.2}]});
footer(531, 1025, 367, 384);

// ---------- Chart 29 ----------
header(8, 502, 435, 2, 442);
txt(26, 477, '点', {size: 12});
txt(253, 481, innerTitles[1], {size: 14, bold: true, anchor: 'middle', ls: 1.6, lls: 0.3});
legLine(132, 171, 503, LGRAY, false); txt(176, 508, legend29[0], {ls: 2});
legLine(270, 308, 503, RED, false); txt(314, 508, legend29[1], {ls: 2});
plot({xd: [2015, 2025.95], xr: [51, 473], yd: [40, 60], yr: [749, 493],
  xTicks: oddYearTicks15, yTicks: p29YTicks,
  series: [{data: finishedGoodsInv, color: LGRAY, width: 2.2},
           {data: rawMaterialInv, color: RED, width: 2.2}]});
footer(8, 502, 786, 801);

// ---------- Chart 30 ----------
header(531, 1025, 435, 3, 442);
txt(560, 477, '点', {size: 12});
txt(807, 485, innerTitles[2], {size: 14, bold: true, anchor: 'middle', ls: 1.6, lls: 0.3});
legLine(693, 731, 509, LGRAY, false); txt(737, 514, legend30[0], {ls: 2});
legLine(786, 824, 509, RED, false); txt(830, 514, legend30[1], {ls: 2});
plot({xd: [2013, 2026], xr: [574, 998.5], yd: [30, 80], yr: [751, 494],
  xTicks: oddYearTicks13, yTicks: p30YTicks,
  series: [{data: mfgOutputPrices, color: LGRAY, width: 2.2},
           {data: svcOutputPrices, color: RED, width: 2.2}]});
footer(531, 1025, 786, 801);

// ---------- Chart 31 ----------
header(8, 502, 853, 4, 860);
txt(26, 891, '点', {size: 12});
legLine(55, 105, 891, RED, false); txt(110, 896, legend31[0]);
legLine(237, 283, 891, '#000', true); txt(295, 896, legend31[1]);
txt(463, 895, '%', {size: 13});
plot({xd: [2010, 2025.95], xr: [50.7, 447.5], yd: [40, 80], yr: [1164, 915],
  y2d: [-5, 15], xTicks: evenYearTicks, yTicks: p31YTicks, y2Ticks: p31Y2Ticks,
  ref: 50, refColor: '#000', refWidth: 1,
  series: [{data: hicpYoY, color: '#000', width: 1, dash: '3,2', right: true},
           {data: compositeOutputPrices, color: RED, width: 2.2}]});
footer(8, 502, 1203, 1219);

// ---------- Chart 32 ----------
header(531, 1025, 853, 5, 860);
txt(550, 888, '点', {size: 12});
legLine(578, 627, 891, RED, false); txt(633, 896, legend32[0]);
legLine(781, 824, 891, '#000', true); txt(836, 896, legend32[1]);
txt(996, 895, '%', {size: 13});
plot({xd: [2010, 2025.95], xr: [574.3, 966.7], yd: [25, 75], yr: [1164.5, 915],
  y2d: [-10, 10], xTicks: evenYearTicks, yTicks: p32YTicks, y2Ticks: p32Y2Ticks,
  ref: 50, refColor: '#7F7F7F', refWidth: 1.5,
  series: [{data: realExportQoQ, color: '#000', width: 1, dash: '3,2', right: true},
           {data: newExportOrders, color: RED, width: 2.2}]});
footer(531, 1025, 1203, 1219);
</script>
</body></html>
